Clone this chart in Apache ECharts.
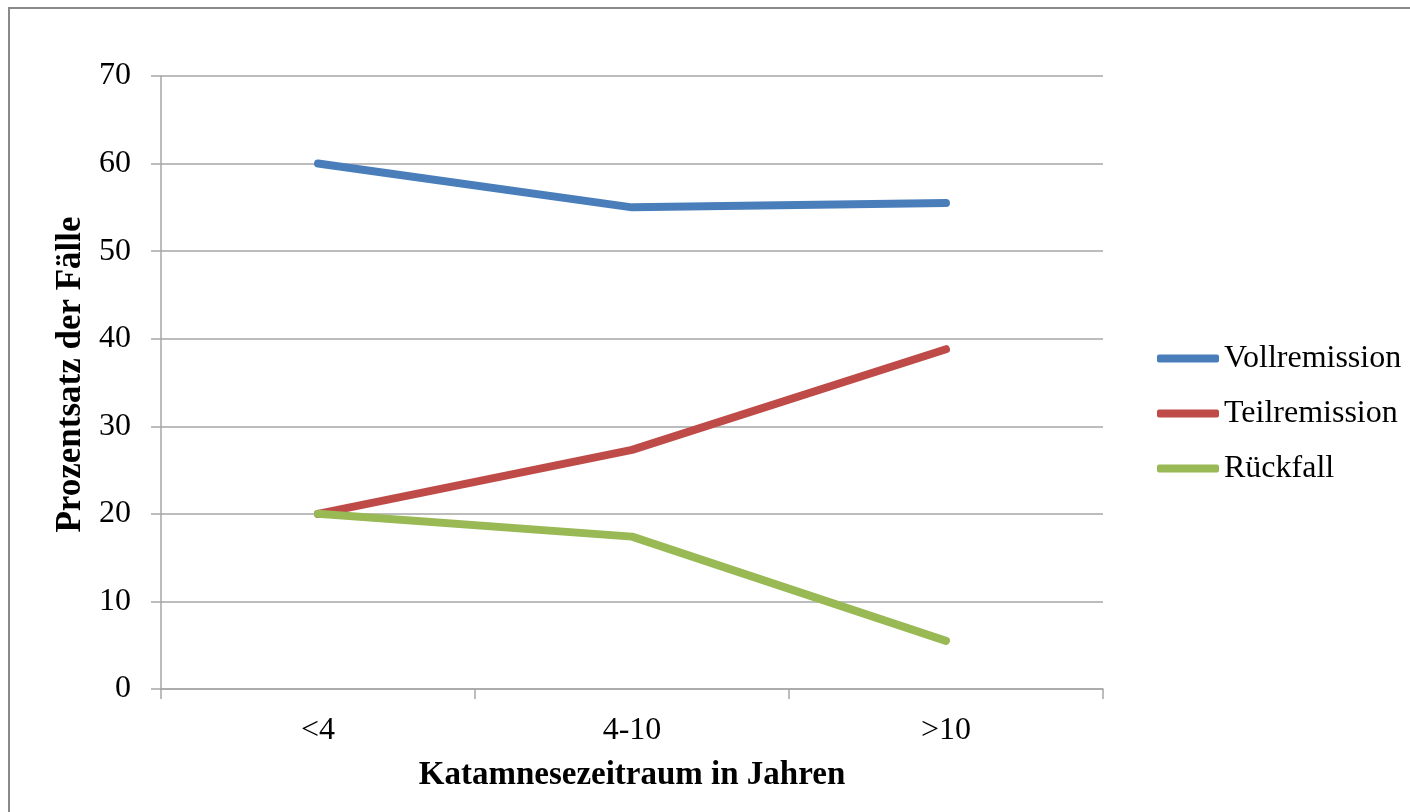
<!DOCTYPE html>
<html>
<head>
<meta charset="utf-8">
<script src="https://cdn.jsdelivr.net/npm/echarts@6/dist/echarts.min.js"></script>
<style>
  html, body { margin: 0; padding: 0; background: #ffffff; }
  #chart { width: 1410px; height: 812px; }
</style>
</head>
<body>
<div id="chart"></div>
<script>
// Katamnesezeitraum categories and outcome percentages
const categories = ['<4', '4-10', '>10'];
const vollremission = [60, 55, 55.5];
const teilremission = [20, 27.3, 38.8];
const rueckfall = [20, 17.4, 5.5];
const yTicks = { min: 0, max: 70, interval: 10 };

const FONT = '"Liberation Serif", "DejaVu Serif", serif';
const GRID_GREY = '#a6a6a6';

const chart = echarts.init(document.getElementById('chart'), null, { renderer: 'canvas' });

function lineSeries(name, data, color) {
  return {
    name: name,
    type: 'line',
    data: data,
    showSymbol: false,
    symbol: 'none',
    lineStyle: { color: color, width: 8, cap: 'round', join: 'round' },
    itemStyle: { color: color },
    emphasis: { disabled: true },
    animation: false
  };
}

chart.setOption({
  animation: false,
  backgroundColor: '#ffffff',
  graphic: [{
    type: 'rect',
    shape: { x: 9, y: 8, width: 1420, height: 830 },
    style: { fill: 'none', stroke: '#8a8a8a', lineWidth: 2 },
    silent: true
  }],
  grid: { left: 161, right: 307, top: 76, bottom: 123, containLabel: false },
  legend: {
    orient: 'vertical',
    left: 1152,
    top: 337,
    itemWidth: 62,
    itemHeight: 8,
    itemGap: 22,
    icon: 'roundRect',
    textStyle: { fontFamily: FONT, fontSize: 32, color: '#000000', lineHeight: 33 },
    data: ['Vollremission', 'Teilremission', 'Rückfall']
  },
  xAxis: {
    type: 'category',
    data: categories,
    boundaryGap: true,
    name: 'Katamnesezeitraum in Jahren',
    nameLocation: 'middle',
    nameGap: 70,
    nameTextStyle: { fontFamily: FONT, fontSize: 33, fontWeight: 'bold', color: '#000000' },
    axisLine: { show: true, lineStyle: { color: GRID_GREY, width: 1.5 } },
    axisTick: { show: true, length: 10, alignWithLabel: false, lineStyle: { color: GRID_GREY, width: 1.5 } },
    axisLabel: { fontFamily: FONT, fontSize: 32, color: '#000000', margin: 26 },
    splitLine: { show: false }
  },
  yAxis: {
    type: 'value',
    min: yTicks.min,
    max: yTicks.max,
    interval: yTicks.interval,
    name: 'Prozentsatz der Fälle',
    nameLocation: 'middle',
    nameGap: 67,
    nameRotate: 90,
    nameTextStyle: { fontFamily: FONT, fontSize: 35, fontWeight: 'bold', color: '#000000', padding: [0, 0, 0, 16] },
    axisLine: { show: true, lineStyle: { color: GRID_GREY, width: 1.5 } },
    axisTick: { show: true, inside: false, length: 10, lineStyle: { color: GRID_GREY, width: 1.5 } },
    axisLabel: { fontFamily: FONT, fontSize: 32, color: '#000000', margin: 30 },
    splitLine: { show: true, lineStyle: { color: GRID_GREY, width: 1.5 } }
  },
  series: [
    lineSeries('Vollremission', vollremission, '#4a7ebb'),
    lineSeries('Teilremission', teilremission, '#be4b48'),
    lineSeries('Rückfall', rueckfall, '#98b954')
  ]
});
</script>
</body>
</html>
